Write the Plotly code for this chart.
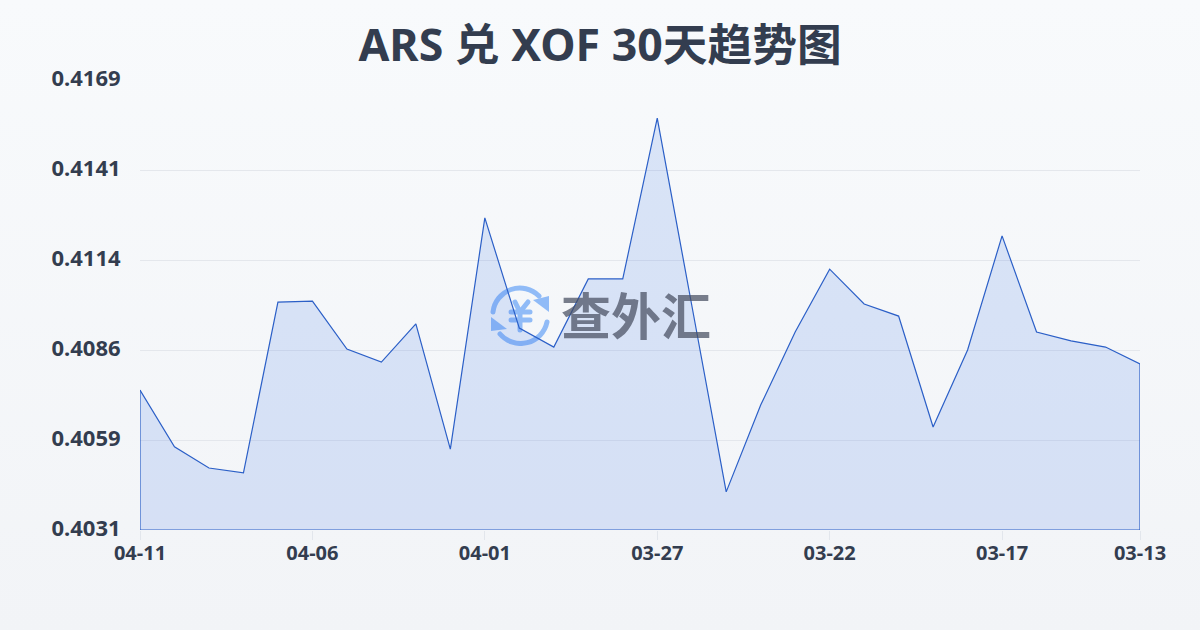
import base64
import plotly.graph_objects as go

dates = ["04-11","04-10","04-09","04-08","04-07","04-06","04-05","04-04","04-03","04-02",
         "04-01","03-31","03-30","03-29","03-28","03-27","03-26","03-25","03-24","03-23",
         "03-22","03-21","03-20","03-19","03-18","03-17","03-16","03-15","03-14","03-13"]
rates = [0.40739,0.40565,0.40500,0.40485,0.41009,0.41012,0.40865,0.40825,0.40942,0.40558,
         0.41267,0.40929,0.40871,0.41080,0.41080,0.41573,0.41000,0.40427,0.40693,0.40917,
         0.41110,0.41003,0.40966,0.40626,0.40862,0.41212,0.40917,0.40890,0.40871,0.40819]
y_ticks = [0.4031,0.40586,0.40862,0.41138,0.41414,0.4169]
y_labels = ["0.4031","0.4059","0.4086","0.4114","0.4141","0.4169"]
x_labels = ["04-11","04-06","04-01","03-27","03-22","03-17","03-13"]
title = "ARS 兑 XOF 30天趋势图"
watermark = "查外汇"

FONT = "'Noto Sans','Noto Sans CJK SC',sans-serif"
TEXT = "#333d4f"
LINE = "#2b5fc7"

x_idx = list(range(len(dates)))
tick_idx = [dates.index(d) for d in x_labels]

fig = go.Figure(go.Scatter(
    x=x_idx, y=rates, mode="lines",
    line=dict(color=LINE, width=1.2),
    fill="tozeroy",
    fillcolor="rgba(59,112,228,0.155)",
    hoverinfo="skip",
    cliponaxis=False,
))
# closing edges of the area
fig.add_trace(go.Scatter(
    x=[x_idx[0], x_idx[0], x_idx[-1], x_idx[-1]],
    y=[rates[0], y_ticks[0], y_ticks[0], rates[-1]],
    mode="lines", line=dict(color=LINE, width=1.2), hoverinfo="skip",
    cliponaxis=False,
))

logo_svg = """<svg xmlns="http://www.w3.org/2000/svg" viewBox="486 284 68 62" width="68" height="62">
<g fill="none" stroke="#90bbf7" stroke-width="5" stroke-linecap="round">
<path d="M493 312 A27 27 0 0 1 539 296"/>
<path d="M547 322 A27 27 0 0 1 500 334"/>
<path d="M515 302 L520 312 L528 302"/>
<path d="M511 312 H530 M511 320 H530 M520 312 V330"/>
</g>
<g fill="#90bbf7"><path d="M549 296 V312 L533 300 Z"/><path d="M491 317 V331 L507 329 Z"/></g>
</svg>"""
logo = "data:image/svg+xml;base64," + base64.b64encode(logo_svg.encode()).decode()

fig.add_layout_image(dict(source=logo, xref="paper", yref="paper",
                          x=(486 - 140) / 1000, y=(530 - 284) / 450,
                          sizex=68 / 1000, sizey=62 / 450, sizing="stretch",
                          xanchor="left", yanchor="top", layer="below"))
fig.add_annotation(x=(636 - 140) / 1000, y=(530 - 313) / 450, xref="paper", yref="paper",
                   text=watermark, showarrow=False,
                   font=dict(family="'Noto Sans CJK SC',sans-serif", size=50,
                             color="rgba(70,78,95,0.72)", weight="bold"))

fig.update_layout(
    width=1200, height=630,
    margin=dict(l=140, r=60, t=80, b=100),
    autosize=False,
    paper_bgcolor="rgba(0,0,0,0)", plot_bgcolor="rgba(0,0,0,0)",
    showlegend=False,
    title=dict(text=title, x=0.5, xanchor="center", y=0.928, yanchor="middle",
               font=dict(family=FONT, size=44.7, color=TEXT, weight="bold")),
    xaxis=dict(range=[0, len(dates) - 1], tickmode="array", tickvals=tick_idx, ticktext=x_labels,
               showgrid=False, zeroline=False, showline=False, ticks="outside", ticklen=9,
               tickcolor="#e2e6ec", tickwidth=1, ticklabelstandoff=-4,
               tickfont=dict(family=FONT, size=20, color=TEXT, weight="bold")),
    yaxis=dict(range=[y_ticks[0], y_ticks[-1]], tickmode="array", tickvals=y_ticks, ticktext=y_labels,
               showgrid=True, gridcolor="#e4e7ec", gridwidth=1, zeroline=False, showline=False,
               ticks="outside", ticklen=14, tickcolor="rgba(0,0,0,0)", ticklabelshift=-2,
               tickfont=dict(family=FONT, size=22, color=TEXT, weight="bold")),
)
page_css = ("document.documentElement.style.height='100%';"
            "document.body.style.margin='0';"
            "document.body.style.minHeight='630px';"
            "document.body.style.background='linear-gradient(180deg,#f8fafc 0%,#f2f4f7 100%)';"
            "var p=document.querySelector('.js-plotly-plot .cartesianlayer .plot');"
            "if(p){p.setAttribute('transform',(p.getAttribute('transform')||'')+' translate(0.5,0.5)');}")
fig.write_html("out.html", post_script=page_css, config={"displayModeBar": False})
